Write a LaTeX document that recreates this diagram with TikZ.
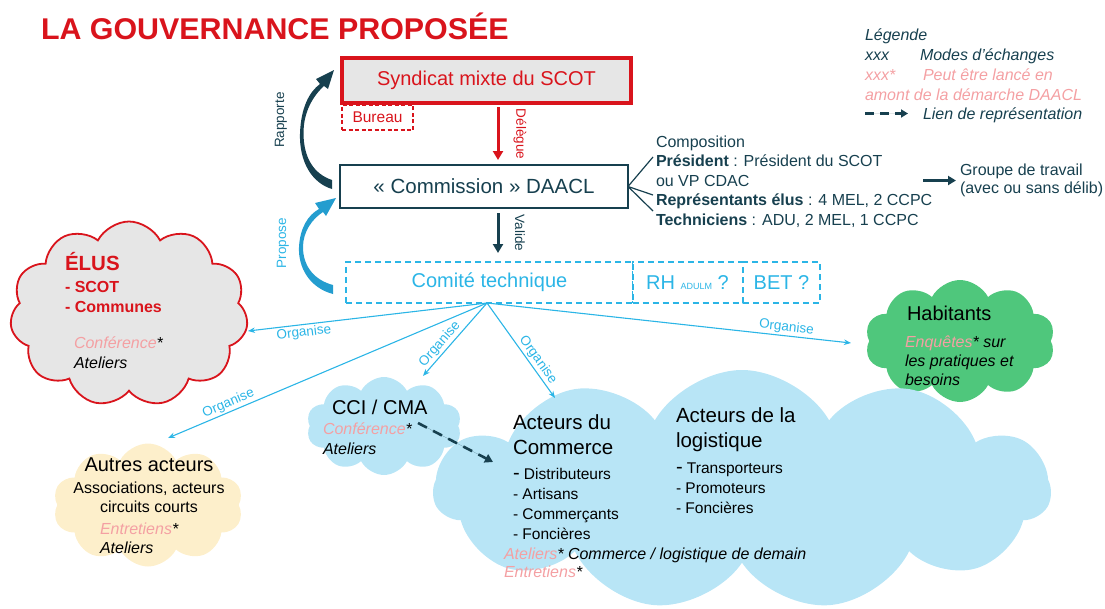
\documentclass[tikz,border=0pt]{standalone}
\usepackage{fontspec}
\setmainfont{Liberation Sans}
\usetikzlibrary{shapes.symbols,arrows.meta}
\definecolor{rouge}{HTML}{D9141C}
\definecolor{marine}{HTML}{17404F}
\definecolor{bleu}{HTML}{2BB5E6}
\definecolor{bleuf}{HTML}{249DCF}
\definecolor{rose}{HTML}{F4A0A3}
\definecolor{grisf}{HTML}{E6E6E6}
\definecolor{ciel}{HTML}{B8E5F6}
\definecolor{vert}{HTML}{4FC77C}
\definecolor{jaune}{HTML}{FDEFCB}
\newcommand\fsz[2]{\fontsize{#1}{#2}\selectfont}
\begin{document}
\begin{tikzpicture}[x=1pt,y=-1pt,
  tx/.style={inner sep=0pt, outer sep=0pt, anchor=base west},
  boxa/.style={inner sep=0pt, outer sep=0pt},
  nuage/.style={cloud, cloud puff arc=125, inner sep=0pt, outer sep=0pt},
  org/.style={draw=bleu, line width=1.1pt, -{Stealth[length=7pt,width=5.5pt]}},
  olab/.style={font=\fsz{13.5}{15}, text=bleu, sloped, inner sep=1.5pt},
  vlab/.style={font=\fsz{13.5}{15}, inner sep=0pt},
  fleche/.style={line width=3pt, -{Triangle[length=9pt,width=10pt]}},
  repr/.style={draw=marine, line width=2.6pt, dash pattern=on 10pt off 7pt, -{Triangle[length=8pt,width=9pt]}},
]
\useasboundingbox (0,0) rectangle (1105,608);

% title
\node[tx, font=\fsz{30}{30}\bfseries, text=rouge, xscale=1.013] (title) at (41,39) {LA GOUVERNANCE PROPOSÉE};

% legend
\node[tx, font=\fsz{16}{19.5}\itshape, text=marine] (leg1) at (865,40) {Légende};
\node[tx, font=\fsz{16}{19.5}\itshape, text=marine] (leg2) at (865,60) {xxx};
\node[tx, font=\fsz{16}{19.5}\itshape, text=marine] (leg2b) at (920,60) {Modes d’échanges};
\node[tx, font=\fsz{16}{19.5}\itshape, text=rose] (leg3) at (865,80) {xxx*};
\node[tx, font=\fsz{16}{19.5}\itshape, text=rose] (leg3b) at (923,80) {Peut être lancé en};
\node[tx, font=\fsz{16}{19.5}\itshape, text=rose] (leg4) at (865,100) {amont de la démarche DAACL};
\coordinate (lg1) at (865,113.5);
\coordinate (lg2) at (908,113.5);
\draw[draw=marine, fill=marine, line width=2.6pt, dash pattern=on 9pt off 6pt, -{Triangle[length=7pt,width=8pt]}] (lg1) -- (lg2);
\node[tx, font=\fsz{16}{19.5}\itshape, text=marine] (leg5) at (923,119) {Lien de représentation};

% boxes
\node[boxa, draw=rouge, line width=3.5pt, fill=grisf, minimum width=289pt, minimum height=45pt, font=\fsz{20}{24}, text=rouge] (syn) at (486.5,80.5) {Syndicat mixte du SCOT};
\node[boxa, draw=rouge, dash pattern=on 4pt off 2.5pt, line width=1.2pt, minimum width=71pt, minimum height=25pt, font=\fsz{15.5}{18}, text=rouge] (bur) at (377.5,117.5) {Bureau};
\node[boxa, draw=marine, line width=2.5pt, fill=white, minimum width=288pt, minimum height=43pt, font=\fsz{20.5}{24}, text=marine] (com) at (484,186.5) {« Commission » DAACL};
\node[boxa, draw=bleu, dash pattern=on 6pt off 4pt, line width=1.5pt, minimum width=287pt, minimum height=41pt, font=\fsz{20}{24}, text=bleu] (ct) at (489.5,282.5) {Comité technique};
\node[boxa, draw=bleu, dash pattern=on 6pt off 4pt, line width=1.5pt, minimum width=110pt, minimum height=41pt, font=\fsz{20}{24}, text=bleu] (rh) at (687.5,282.5) {RH {\fsz{9}{10}ADULM} ?};
\node[boxa, draw=bleu, dash pattern=on 6pt off 4pt, line width=1.5pt, minimum width=77pt, minimum height=41pt, font=\fsz{20}{24}, text=bleu] (bet) at (781.5,282.5) {BET ?};

% vertical arrows
\draw[fleche, draw=rouge, fill=rouge, shorten <=4pt, shorten >=5pt] ([xshift=11.5pt]syn.south) -- ([xshift=14pt]com.north);
\node[vlab, text=rouge, rotate=-90] (dlab) at (520,134) {Délègue};
\draw[fleche, draw=marine, fill=marine, shorten <=5pt, shorten >=9pt] ([xshift=14pt]com.south) -- ([xshift=8.5pt]ct.north);
\node[vlab, text=marine, rotate=-90] (vlab) at (520,233) {Valide};

% curved arrows
\fill[marine] (332,189) .. controls (312,183) and (299,162) .. (300,133) .. controls (301,108) and (309,92) .. (320,84) -- (316,79) -- (334,70) -- (328,89) -- (324,86) .. controls (313,96) and (303.5,112) .. (303.5,133) .. controls (303.5,158) and (314,174) .. (332,180) -- cycle;
\node[vlab, text=marine, rotate=90] (rap) at (281,120) {Rapporte};
\fill[bleuf] (333,294) .. controls (310,288) and (298,268) .. (299,247) .. controls (300,228) and (308,215) .. (319,209) -- (315,203) -- (336,198) -- (326,216) -- (323,212) .. controls (312,219) and (303,232) .. (303,247) .. controls (303,266) and (314,280) .. (333,285) -- cycle;
\node[vlab, text=bleu, rotate=90] (prop) at (283,243) {Propose};

% composition
\coordinate (f1) at (653,157);
\coordinate (f2) at (653,195);
\coordinate (f3) at (653,211);
\draw[marine, line width=1.2pt] (com.east) -- (f1) (com.east) -- (f2) (com.east) -- (f3);
\node[tx, font=\fsz{16}{19.5}, text=marine, align=left] (compo) at (656,225) {Composition\\
\textbf{Président} : Président du SCOT\\
ou VP CDAC\\
\textbf{Représentants élus} : 4 MEL, 2 CCPC\\
\textbf{Techniciens} : ADU, 2 MEL, 1 CCPC};
\coordinate (g1) at (923,180.5);
\coordinate (g2) at (956,180.5);
\draw[draw=marine, fill=marine, line width=2.6pt, -{Triangle[length=8pt,width=9pt]}] (g1) -- (g2);
\node[tx, font=\fsz{16}{18.5}, text=marine, align=left] (grp) at (960,193.5) {Groupe de travail\\(avec ou sans délib)};

% clouds
\node[nuage, cloud puffs=11, draw=rouge, line width=1.8pt, fill=grisf, minimum width=238pt, minimum height=185pt, aspect=1.28] (elus) at (129,314) {};
\node[nuage, cloud puffs=10, fill=vert, minimum width=190pt, minimum height=122pt, aspect=1.56] (hab) at (960,341) {};
\node[nuage, cloud puffs=11, cloud puff arc=120, fill=ciel, minimum width=617pt, minimum height=240pt, aspect=2.3] (big) at (742,490) {};
\node[nuage, cloud puffs=10, fill=ciel, minimum width=155pt, minimum height=98pt, aspect=1.58] (cci) at (384,426) {};
\node[nuage, cloud puffs=10, fill=jaune, minimum width=190pt, minimum height=123pt, aspect=1.54] (aut) at (148,505) {};

% elus text
\node[tx, font=\fsz{20.5}{24}\bfseries, text=rouge] (e1) at (65,270.5) {ÉLUS};
\node[tx, font=\fsz{16}{20}\bfseries, text=rouge, align=left] (e2) at (65,312) {- SCOT\\- Communes};
\node[tx, font=\fsz{16}{20}\itshape, align=left] (e3) at (74,368) {{\color{rose}Conférence}*\\Ateliers};

% habitants text
\node[tx, font=\fsz{20}{24}] (h1) at (907,320) {Habitants};
\node[tx, font=\fsz{16}{19}\itshape, align=left] (h2) at (905,385) {{\color{rose}Enquêtes}* sur\\les pratiques et\\besoins};

% cci text
\node[tx, font=\fsz{20}{24}] (c1) at (332,414.5) {CCI / CMA};
\node[tx, font=\fsz{16}{20}\itshape, align=left] (c2) at (323,454) {{\color{rose}Conférence}*\\Ateliers};

% big cloud text
\node[tx, font=\fsz{20.5}{25}, align=left] (b1) at (513,454) {Acteurs du\\Commerce};
\node[tx, font=\fsz{15.5}{20}, align=left] (b2) at (513,539) {{\fsz{20}{20}-} Distributeurs\\- Artisans\\- Commerçants\\- Foncières};
\node[tx, font=\fsz{20.5}{25}, align=left] (b3) at (676,447) {Acteurs de la\\logistique};
\node[tx, font=\fsz{15.5}{20}, align=left] (b4) at (676,513) {{\fsz{20}{20}-} Transporteurs\\- Promoteurs\\- Foncières};
\node[tx, font=\fsz{16}{18}\itshape, align=left] (b5) at (504,577) {{\color{rose}Ateliers}* Commerce / logistique de demain\\{\color{rose}Entretiens}*};

% autres text
\node[inner sep=0pt, anchor=base, font=\fsz{20}{24}] (a1) at (149,471) {Autres acteurs};
\node[inner sep=0pt, anchor=base, font=\fsz{16}{19}, align=center] (a2) at (149,512) {Associations, acteurs\\circuits courts};
\node[tx, font=\fsz{16}{19}\itshape, align=left] (a3) at (100,553) {{\color{rose}Entretiens}*\\Ateliers};

% organise arrows
\coordinate (o) at ([xshift=-2.5pt]ct.south);
\coordinate (eT) at (248,331);
\coordinate (aT) at (168,438);
\coordinate (cT) at (423,376);
\coordinate (bT) at (555,398);
\coordinate (hT) at (851,343);
\draw[org] (o) -- node[olab, pos=0.77, below] (ol1) {Organise} (eT);
\draw[org] (o) -- node[olab, pos=0.8, above] (ol2) {Organise} (aT);
\draw[org] (o) -- node[olab, pos=0.64, above] (ol3) {Organise} (cT);
\draw[org] (o) -- node[olab, pos=0.65, above] (ol4) {Organise} (bT);
\draw[org] (o) -- node[olab, pos=0.82, above] (ol5) {Organise} (hT);

% representation link
\coordinate (d1) at (418,423);
\coordinate (d2) at (493,462);
\draw[repr, fill=marine] (d1) -- (d2);
\end{tikzpicture}
\end{document}
